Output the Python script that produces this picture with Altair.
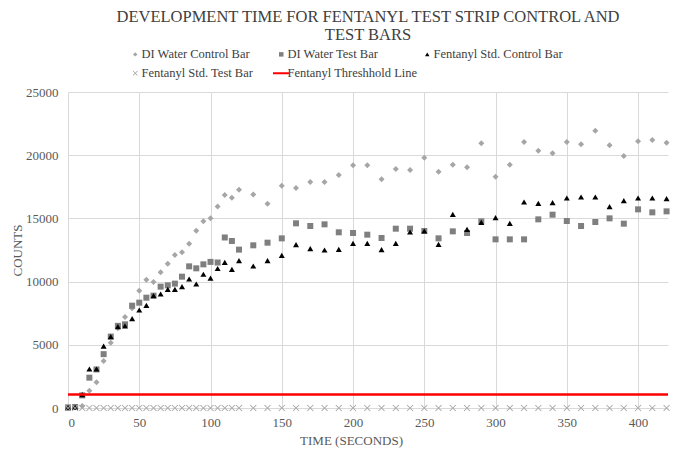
import altair as alt
import pandas as pd

# ---------------- data ----------------
time_s = [0, 5, 10, 15, 20, 25, 30, 35, 40, 45, 50, 55, 60, 65, 70, 75, 80, 85, 90, 95,
          100, 105, 110, 115, 120,
          130, 140, 150, 160, 170, 180, 190, 200, 210, 220,
          230, 240, 250, 260, 270, 280, 290, 300, 310, 320,
          330, 340, 350, 360, 370, 380, 390, 400, 410, 420]

di_water_control = [30, 60, 150, 1370, 2030, 3720, 5170, 6300, 7200, 7900, 9270, 10150, 9960, 10740,
                    11420, 12100, 12315, 12990, 14020, 14770, 15005, 15950, 16850, 16640, 17270,
                    16900, 16165, 17590, 17400, 17880, 17880, 18430, 19200, 19200, 18090,
                    18910, 18830, 19800, 18700, 19250, 19040, 20940, 18300, 19250, 21040,
                    20360, 20150, 21040, 20860, 21940, 20780, 19940, 21100, 21200, 20990]

di_water_test = [50, 80, 1000, 2400, 3050, 4260, 5650, 6500, 6620, 8096, 8333, 8728, 8887, 9600,
                 9705, 9840, 10390, 11207, 11050, 11365, 11560, 11510, 13490, 13210, 12530,
                 12870, 13080, 13420, 14610, 14400, 14530, 13900, 13844, 13712, 13448,
                 14187, 14187, 14002, 13422, 13976, 13844, 14767, 13343, 13343, 13343,
                 14925, 15294, 14793, 14398, 14714, 15004, 14582, 15716, 15479, 15558]

fentanyl_control = [30, 60, 1060, 3085, 3085, 4900, 5640, 6440, 6490, 7070, 7753, 8122, 8887, 9019,
                    9388, 9388, 9599, 10205, 9810, 10580, 10270, 11035, 11520, 10970, 11655,
                    11234, 11655, 12077, 12921, 12605, 12499, 12552, 13027, 13027, 12526,
                    13027, 13923, 14002, 12948, 15321, 14134, 14688, 15057, 14609, 16296,
                    16191, 16244, 16613, 16692, 16692, 15927, 16402, 16613, 16613, 16560]

fentanyl_test = [0, 0, 0, 0, 0, 0, 0, 0, 0, 0, 0, 0, 0, 0, 0, 0, 0, 0, 0, 0,
                 0, 0, 0, 0, 0,
                 0, 0, 0, 0, 0, 0, 0, 0, 0, 0,
                 0, 0, 0, 0, 0, 0, 0, 0, 0, 0,
                 0, 0, 0, 0, 0, 0, 0, 0, 0, 0]

threshold_value = 1075

series_names = ["DI Water Control Bar", "DI Water Test Bar", "Fentanyl Std. Control Bar",
                "Fentanyl Std. Test Bar", "Fentanyl Threshhold Line"]
x_ticks = [0, 50, 100, 150, 200, 250, 300, 350, 400]
y_ticks = [0, 5000, 10000, 15000, 20000, 25000]

# ---------------- styling ----------------
colors = ["#a6a6a6", "#7f7f7f", "#000000", "#a6a6a6", "#ff0000"]
X_PATH = ("M-1.12,-0.88L0.88,1.12L1.12,0.88L-0.88,-1.12Z"
          "M-0.88,1.12L1.12,-0.88L0.88,-1.12L-1.12,0.88Z")
LINE_PATH = "M-3.7,-0.45L3.7,-0.45L3.7,0.45L-3.7,0.45Z"
shapes = ["diamond", "square", "triangle-up", X_PATH, LINE_PATH]
FONT = "Liberation Serif"

rows = []
for name, vals in zip(series_names[:4], [di_water_control, di_water_test, fentanyl_control, fentanyl_test]):
    for t, v in zip(time_s, vals):
        rows.append({"time": t, "counts": v, "series": name})
df = pd.DataFrame(rows)

legend = alt.Legend(
    title=None, orient="none", legendX=61, legendY=-44, columns=3, direction="horizontal",
    gridAlign="all", columnPadding=0, rowPadding=6, symbolSize=20, symbolStrokeWidth=0,
    labelFont=FONT, labelFontSize=12.5, labelColor="#404040", labelOffset=0,
)

x_enc = alt.X("time:Q", scale=alt.Scale(domain=[0, 421], nice=False, zero=False),
              axis=alt.Axis(values=x_ticks, title="TIME (SECONDS)", labelPadding=8,
                            titleX=283, titleY=26, labelFont=FONT))
y_axis = alt.Axis(values=y_ticks, title="COUNTS", format="d", labelPadding=10,
                  titleX=-44, titleY=158, labelFont=FONT)

points = alt.Chart(df).mark_point(filled=True, size=36, opacity=1, strokeWidth=0).encode(
    x=x_enc,
    y=alt.Y("counts:Q", scale=alt.Scale(domain=[0, 25000], nice=False), axis=y_axis),
    color=alt.Color("series:N", scale=alt.Scale(domain=series_names, range=colors), legend=legend),
    shape=alt.Shape("series:N", scale=alt.Scale(domain=series_names, range=shapes), legend=legend),
)

rule = alt.Chart(pd.DataFrame({"counts": [threshold_value]})).mark_rule(
    color="#ff0000", strokeWidth=2.5
).encode(y=alt.Y("counts:Q", axis=y_axis))

chart = alt.layer(points, rule).properties(
    width=600, height=316,
    autosize=alt.AutoSizeParams(type="none"),
    padding={"left": 60, "top": 84, "right": 9, "bottom": 42},
    title=alt.TitleParams(
        text=["DEVELOPMENT TIME FOR FENTANYL TEST STRIP CONTROL AND", "TEST BARS"],
        font=FONT, fontSize=16.5, fontWeight="normal", color="#404040",
        anchor="middle", lineHeight=18, dy=-1,
    ),
).configure(font=FONT).configure_view(stroke=None).configure_axis(
    grid=True, gridColor="#d9d9d9", gridWidth=1, domain=False, ticks=False,
    labelFont=FONT, labelFontSize=13, labelColor="#595959",
    titleFont=FONT, titleFontSize=13, titleColor="#595959", titleFontWeight="normal",
).configure_legend(
    labelFont=FONT, labelFontSize=12.5, labelColor="#404040",
)

chart.save("out.html", embed_options={"renderer": "svg", "actions": False})
